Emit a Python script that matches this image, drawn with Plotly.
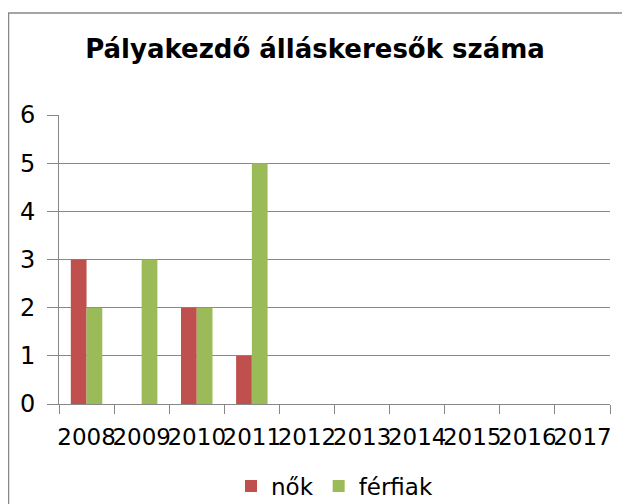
import plotly.graph_objects as go

years = ["2008", "2009", "2010", "2011", "2012", "2013", "2014", "2015", "2016", "2017"]
nok = [3, 0, 2, 1, 0, 0, 0, 0, 0, 0]
ferfiak = [2, 3, 2, 5, 0, 0, 0, 0, 0, 0]
title_text = "Pályakezdő álláskeresők száma"

# page body has an 8px margin; work in figure coordinates
OFF = 8
W, H = 630 - OFF, 504 - OFF
L, T = 59 - OFF, 115 - OFF
R = W - (610 - OFF)
B = H - (404 - OFF)
pw, ph = W - L - R, H - T - B

fig = go.Figure()
fig.add_trace(go.Bar(name="nők", x=years, y=nok, marker=dict(color="#C0504D", line=dict(width=0))))
fig.add_trace(go.Bar(name="férfiak", x=years, y=ferfiak, marker=dict(color="#9BBB59", line=dict(width=0))))

fig.update_layout(
    width=W, height=H,
    margin=dict(l=L, r=R, t=T, b=B, autoexpand=False),
    paper_bgcolor="white", plot_bgcolor="white",
    barmode="group", bargap=1.5 / 3.5, bargroupgap=0,
    font=dict(family="DejaVu Sans", color="black", size=22),
    title=dict(text="<b>" + title_text + "</b>", x=(315 - OFF) / W, xanchor="center",
               y=1 - (49 - OFF) / H, yanchor="middle", yref="container",
               font=dict(family="DejaVu Sans", size=26, color="black")),
    showlegend=True,
    legend=dict(orientation="h", x=0.5, xanchor="center", y=-(486 - 404) / ph, yanchor="middle",
                font=dict(size=23), itemsizing="constant", traceorder="normal", itemwidth=30),
    xaxis=dict(type="category", showline=True, linecolor="#888888", linewidth=1,
               ticks="outside", tickson="boundaries", ticklen=9, tickcolor="#888888",
               showgrid=False, ticklabelstandoff=12, tickangle=0, tickfont=dict(size=23),
               fixedrange=True),
    yaxis=dict(range=[0, 6], dtick=1, showline=True, linecolor="#888888", linewidth=1,
               ticks="outside", ticklen=11, tickcolor="#888888",
               showgrid=True, gridcolor="#888888", gridwidth=1, zeroline=False,
               ticklabelstandoff=7, tickfont=dict(size=24), fixedrange=True),
    shapes=[dict(type="rect", xref="paper", yref="paper",
                 x0=(0.5 - L) / pw, x1=(W + 20 - L) / pw,
                 y0=-(H + 20 - (H - B)) / ph, y1=((H - B) - (13 - OFF)) / ph,
                 line=dict(color="#888888", width=1.5), fillcolor="rgba(0,0,0,0)", layer="below")],
)

fig.write_html("out.html", config={"displayModeBar": False})
